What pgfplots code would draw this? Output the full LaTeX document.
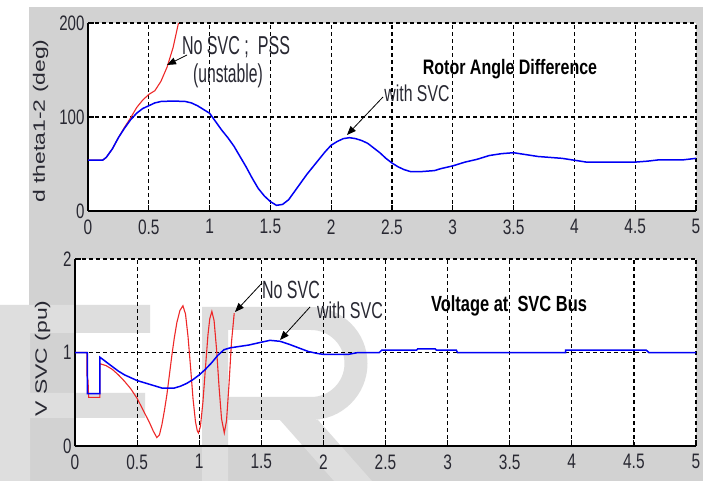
\documentclass[border=0pt]{standalone}
\usepackage{fontspec}
\setmainfont{Liberation Sans}
\usepackage{pgfplots}
\pgfplotsset{compat=1.18}
\usetikzlibrary{arrows.meta}
\definecolor{figbg}{RGB}{210,210,210}
\definecolor{wm}{RGB}{222,222,222}
\definecolor{mred}{RGB}{238,40,40}
\definecolor{mblue}{RGB}{0,0,245}
\definecolor{txt}{RGB}{40,40,50}
\newcommand{\sx}[2]{\scalebox{#1}[1]{#2}}
\pgfplotsset{
  /pgf/number format/assume math mode=true,
  mstyle/.style={
    scale only axis, anchor=south west,
    xmin=0, xmax=5, xtick={0,0.5,1,1.5,2,2.5,3,3.5,4,4.5,5},
    axis x line=bottom, axis y line=left,
    axis line style={-, line width=1.3bp, black},
    tick align=inside, major tick length=6bp,
    tick style={black, line width=1.1bp},
    grid=major,
    major grid style={black, line width=1.2bp, dash pattern=on 3.5bp off 3.5bp},
    ticklabel style={font=\fontsize{21}{21}\selectfont, text=txt},
    xticklabel={\sx{0.74}{\pgfmathprintnumber{\tick}}},
    yticklabel={\sx{0.72}{\pgfmathprintnumber{\tick}}},
    xticklabel style={yshift=-5bp},
  }
}
\begin{document}
\begin{tikzpicture}
\path[use as bounding box] (0,0) rectangle (710bp,481bp);
\begin{scope}[x=1bp,y=1bp]
\fill[white] (0,0) rectangle (710,481);
\fill[figbg] (29,0) rectangle (703,474);
\fill[white] (88,270) rectangle (696,458);
\fill[white] (75,35) rectangle (696,222);
% watermark letters
\fill[wm] (0,0) -- (0,176) -- (150,176) -- (150,148) -- (30,148) -- (30,88) -- (145,88) -- (145,63) -- (30,63) -- (30,0) -- cycle;
\fill[wm, even odd rule] (202,0) -- (202,174) -- (311,174) arc[start angle=90, end angle=-90, radius=56.5] -- (228,61) -- (228,0) -- cycle
  (228,151) -- (311,151) arc[start angle=90, end angle=-90, radius=33.5] -- (228,84) -- cycle;
\fill[wm] (280,61) -- (318,61) -- (372,0) -- (334,0) -- cycle;
\end{scope}

\begin{axis}[mstyle, at={(88bp,270bp)}, width=608bp, height=188bp,
  ymin=0, ymax=200, ytick={0,100,200}]
\addplot[mred, line width=1.1bp] coordinates {
(0,54) (0.12,54) (0.15,57) (0.2,66) (0.25,78) (0.3,89) (0.35,99) (0.4,110)
(0.45,118) (0.5,124) (0.55,128) (0.6,138) (0.65,153) (0.7,174) (0.744,200)};
\addplot[mblue, line width=1.5bp] coordinates {
(0,54) (0.12,54) (0.15,57) (0.2,66) (0.25,78) (0.3,88) (0.35,97) (0.4,104)
(0.45,109) (0.5,112) (0.55,115) (0.6,116.5) (0.7,117) (0.8,116.5) (0.85,115)
(0.9,112) (0.95,108) (1.0,104) (1.05,95) (1.1,86) (1.15,78) (1.2,69) (1.25,58)
(1.3,47) (1.35,35) (1.4,24) (1.45,16) (1.5,10) (1.55,6) (1.6,7) (1.65,12)
(1.7,21) (1.75,30) (1.8,39) (1.85,47) (1.9,55) (1.95,63) (2.0,70) (2.05,74)
(2.1,77) (2.15,78) (2.2,77) (2.25,75) (2.3,72) (2.35,67) (2.4,62) (2.45,56)
(2.5,51) (2.55,47) (2.6,44) (2.65,42) (2.75,42) (2.85,43) (2.9,45) (3.0,48)
(3.1,52) (3.2,55) (3.3,59) (3.4,61) (3.5,62) (3.6,60) (3.7,58) (3.8,57)
(3.9,56) (4.0,54) (4.1,52) (4.5,52) (4.6,53) (4.7,54.5) (4.9,54.5) (5,56)};
\end{axis}

\begin{axis}[mstyle, at={(75bp,35bp)}, width=621bp, height=187bp,
  ymin=0, ymax=2, ytick={0,1,2}]
\addplot[mred, line width=1.1bp] coordinates {
(0,1.0) (0.095,1.0) (0.097,0.75) (0.105,0.70) (0.11,0.52) (0.2,0.52) (0.2,0.88)
(0.25,0.86) (0.3,0.82) (0.35,0.76) (0.4,0.69) (0.45,0.61) (0.5,0.51) (0.55,0.38)
(0.6,0.25) (0.63,0.16) (0.659,0.09) (0.68,0.12) (0.70,0.23) (0.72,0.38)
(0.74,0.55) (0.76,0.76) (0.78,0.97) (0.80,1.16) (0.82,1.32) (0.845,1.45)
(0.869,1.50) (0.89,1.41) (0.91,1.17) (0.93,0.85) (0.95,0.51) (0.97,0.26)
(0.985,0.16) (0.994,0.14) (1.01,0.21) (1.03,0.47) (1.05,0.83) (1.07,1.18)
(1.085,1.36) (1.102,1.44) (1.12,1.34) (1.14,1.03) (1.16,0.63) (1.18,0.29)
(1.202,0.14) (1.22,0.27) (1.24,0.66) (1.26,1.11) (1.282,1.42)};
\addplot[mblue, line width=1.5bp] coordinates {
(0,1) (0.1,1) (0.1,0.56) (0.2,0.56) (0.2,0.95) (0.25,0.90) (0.3,0.85) (0.35,0.80)
(0.4,0.76) (0.45,0.73) (0.5,0.70) (0.55,0.68) (0.6,0.66) (0.65,0.64) (0.7,0.62)
(0.75,0.62) (0.8,0.62) (0.85,0.64) (0.9,0.67) (0.95,0.71) (1.0,0.76) (1.05,0.82)
(1.1,0.89) (1.15,0.97) (1.2,1.03) (1.25,1.05) (1.3,1.06) (1.4,1.08) (1.5,1.11)
(1.57,1.13) (1.65,1.12) (1.72,1.09) (1.8,1.05) (1.88,1.01) (1.95,0.99) (2.0,0.98)
(2.2,0.98) (2.28,1.0) (2.45,1.0) (2.47,1.025) (2.75,1.025) (2.76,1.04) (2.9,1.04)
(2.91,1.025) (3.07,1.025) (3.08,1.0) (3.95,1.0) (3.95,1.025) (4.6,1.025)
(4.62,1.0) (5,1)};
\end{axis}

\begin{scope}[x=1bp,y=1bp, every node/.style={inner sep=0pt, text=txt}]
\node[anchor=base, font=\fontsize{26}{26}\selectfont] at (236,426) {\sx{0.62}{No SVC ;~ PSS}};
\node[anchor=base, font=\fontsize{26}{26}\selectfont] at (228,398) {\sx{0.605}{(unstable)}};
\node[anchor=base, font=\fontsize{21}{21}\selectfont\bfseries, text=black] at (510,406) {\sx{0.765}{Rotor Angle Difference}};
\node[anchor=base, font=\fontsize{23}{23}\selectfont] at (417,380) {\sx{0.69}{with SVC}};
\node[anchor=base, font=\fontsize{25}{25}\selectfont] at (291,183) {\sx{0.64}{No SVC}};
\node[anchor=base, font=\fontsize{23}{23}\selectfont] at (350,163) {\sx{0.70}{with SVC}};
\node[anchor=base, font=\fontsize{22}{22}\selectfont\bfseries, text=black] at (509,170) {\sx{0.75}{Voltage at~ SVC Bus}};
\node[rotate=90, font=\fontsize{23}{23}\selectfont] at (40.5,360) {\scalebox{1}[0.72]{d theta1-2 (deg)}};
\node[rotate=90, font=\fontsize{23}{23}\selectfont] at (42.5,122.5) {\scalebox{1}[0.72]{V SVC (pu)}};
\draw[black, line width=0.8bp, -{Triangle[length=9bp,width=7bp]}] (187,426) -- (167,416);
\draw[black, line width=0.8bp, -{Triangle[length=9bp,width=7bp]}] (383,384) -- (347,346);
\draw[black, line width=0.8bp, -{Triangle[length=9bp,width=7bp]}] (262,198) -- (235,169);
\draw[black, line width=0.8bp, -{Triangle[length=9bp,width=7bp]}] (310,174) -- (280,141);
\end{scope}
\end{tikzpicture}
\end{document}
